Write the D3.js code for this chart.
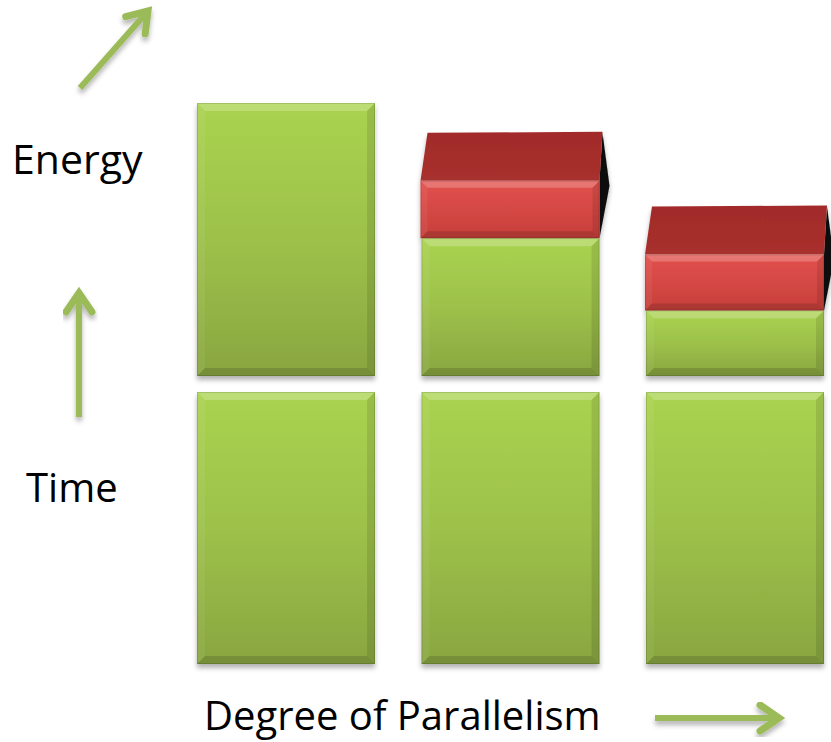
<!DOCTYPE html>
<html>
<head>
<meta charset="utf-8">
<script src="https://cdn.jsdelivr.net/npm/d3@7"></script>
<style>
  html, body { margin: 0; padding: 0; background: #fff; }
  svg { display: block; }
  text { font-family: "Open Sans", "Noto Sans", sans-serif; fill: #000; }
</style>
</head>
<body>
<script>
// Three configurations of increasing parallelism
const levels = ["Low", "Medium", "High"];
// Energy panel: useful energy (green) and overhead energy (red box on top)
const energyUseful = [1.0, 0.505, 0.24];
const energyOverhead = [0, 0.21, 0.205];
// Time panel: execution time stays the same
const timeValues = [1.0, 1.0, 1.0];

const axisLabels = { energy: "Energy", time: "Time", x: "Degree of Parallelism" };

const W = 831, H = 742;
const svg = d3.select("body").append("svg").attr("width", W).attr("height", H);
const defs = svg.append("defs");

// soft drop shadow used by bars and arrows
const sh = defs.append("filter").attr("id", "shadow")
  .attr("x", "-10%").attr("y", "-10%").attr("width", "130%").attr("height", "130%");
sh.append("feDropShadow").attr("dx", 0).attr("dy", 4).attr("stdDeviation", 2.5)
  .attr("flood-color", "#000").attr("flood-opacity", 0.3);

function vGrad(id, stops) {
  const g = defs.append("linearGradient").attr("id", id)
    .attr("x1", 0).attr("y1", 0).attr("x2", 0).attr("y2", 1);
  stops.forEach(([o, c]) => g.append("stop").attr("offset", o).attr("stop-color", c));
}
vGrad("greenFace", [[0, "#aad350"], [0.5, "#9dc14a"], [1, "#89a640"]]);
vGrad("redFace", [[0, "#e2514d"], [1, "#c73f3b"]]);
vGrad("redTop", [[0, "#a22b2a"], [1, "#a8302d"]]);

const x = d3.scaleBand().domain(levels).range([197, 824]).paddingInner(0.207).paddingOuter(0);
const yEnergy = d3.scaleLinear().domain([0, 1]).range([376, 103]);
const yTime = d3.scaleLinear().domain([0, 1]).range([664, 392]);

// rectangle with a bevelled rim
function bevelRect(g, x0, y0, w, h, fill, b) {
  const grp = g.append("g");
  grp.append("rect").attr("x", x0).attr("y", y0).attr("width", w).attr("height", h)
    .attr("fill", fill);
  const poly = (pts, color, op) => grp.append("polygon")
    .attr("points", pts.map(p => p.join(",")).join(" "))
    .attr("fill", color).attr("fill-opacity", op);
  const bb = Math.min(b, h / 2);
  poly([[x0, y0], [x0 + w, y0], [x0 + w - bb, y0 + bb], [x0 + bb, y0 + bb]], "#fff", 0.22);
  poly([[x0, y0], [x0 + bb, y0 + bb], [x0 + bb, y0 + h - bb], [x0, y0 + h]], "#fff", 0.06);
  poly([[x0 + w, y0], [x0 + w, y0 + h], [x0 + w - bb, y0 + h - bb], [x0 + w - bb, y0 + bb]], "#000", 0.1);
  poly([[x0, y0 + h], [x0 + bb, y0 + h - bb], [x0 + w - bb, y0 + h - bb], [x0 + w, y0 + h]], "#000", 0.14);
  grp.append("rect").attr("x", x0 + 0.5).attr("y", y0 + 0.5).attr("width", w - 1).attr("height", h - 1)
    .attr("fill", "none").attr("stroke", "#000").attr("stroke-opacity", 0.12);
  return grp;
}

const bars = svg.append("g");

// Time panel
levels.forEach((lv, i) => {
  const g = bars.append("g").attr("filter", "url(#shadow)");
  bevelRect(g, x(lv), yTime(timeValues[i]), x.bandwidth(), yTime(0) - yTime(timeValues[i]), "url(#greenFace)", 8);
});

// Energy panel
const depthX = 7, depthY = 48;
levels.forEach((lv, i) => {
  const g = bars.append("g").attr("filter", "url(#shadow)");
  const x0 = x(lv), w = x.bandwidth();
  const yG = yEnergy(energyUseful[i]);
  bevelRect(g, x0, yG, w, yEnergy(0) - yG, "url(#greenFace)", 8);
  if (energyOverhead[i] > 0) {
    const yR = yEnergy(energyUseful[i] + energyOverhead[i]);
    const hR = yG - yR;
    const fx = x0 - 1, fw = w + 1;
    // right side of the box
    g.append("polygon")
      .attr("points", [[fx + fw + 3, yR - depthY], [fx + fw + 10, yR + 5], [fx + fw, yG], [fx + fw, yR]].map(p => p.join(",")).join(" "))
      .attr("fill", "#0d0d0d");
    // top of the box
    g.append("polygon")
      .attr("points", [[fx, yR], [fx + depthX, yR - depthY], [fx + fw + 3, yR - depthY - 1], [fx + fw, yR]].map(p => p.join(",")).join(" "))
      .attr("fill", "url(#redTop)");
    bevelRect(g, fx, yR, fw, hR, "url(#redFace)", 7);
  }
});

// arrows
const arrowColor = "#9bbb59";
function arrow(x1, y1, x2, y2) {
  const g = svg.append("g").attr("filter", "url(#shadow)");
  const ang = Math.atan2(y2 - y1, x2 - x1);
  const len = 23, spread = 0.6;
  g.append("line").attr("x1", x1).attr("y1", y1).attr("x2", x2 - Math.cos(ang) * 3).attr("y2", y2 - Math.sin(ang) * 3)
    .attr("stroke", arrowColor).attr("stroke-width", 6);
  const p1 = [x2 - len * Math.cos(ang - spread), y2 - len * Math.sin(ang - spread)];
  const p2 = [x2 - len * Math.cos(ang + spread), y2 - len * Math.sin(ang + spread)];
  g.append("polyline").attr("points", [p1, [x2, y2], p2].map(p => p.join(",")).join(" "))
    .attr("fill", "none").attr("stroke", arrowColor).attr("stroke-width", 7)
    .attr("stroke-linejoin", "miter").attr("stroke-linecap", "round");
}
arrow(80, 88, 148, 11);
arrow(79, 417, 79, 293);
arrow(655, 718, 779, 718);

// labels
svg.append("text").attr("x", 12).attr("y", 174).attr("font-size", 41).text(axisLabels.energy);
svg.append("text").attr("x", 26).attr("y", 502).attr("font-size", 40).text(axisLabels.time);
svg.append("text").attr("x", 204).attr("y", 730).attr("font-size", 40).text(axisLabels.x);
</script>
</body>
</html>
